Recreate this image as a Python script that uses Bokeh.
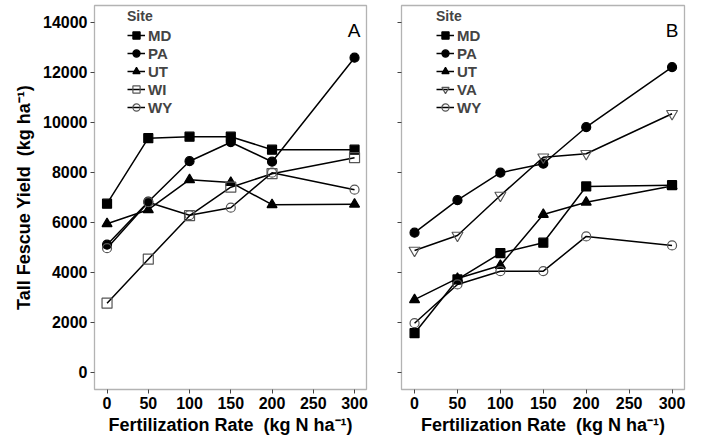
from bokeh.plotting import figure
from bokeh.models import Range1d, FixedTicker, Legend, LegendItem, Label
from bokeh.layouts import row
from bokeh.embed import file_html
from bokeh.resources import INLINE

# ---------------- data ----------------
rates = [0, 50, 100, 150, 200, 300]
x_ticks = [0, 50, 100, 150, 200, 250, 300]
y_ticks = [0, 2000, 4000, 6000, 8000, 10000, 12000, 14000]

sites_a = ["MD", "PA", "UT", "WI", "WY"]
a_md = [6740, 9360, 9420, 9420, 8900, 8900]
a_pa = [5100, 6820, 8440, 9200, 8420, 12580]
a_ut = [5940, 6500, 7700, 7590, 6700, 6720]
a_wi = [2760, 4520, 6260, 7400, 7940, 8580]
a_wy = [4960, 6800, 6280, 6580, 7980, 7300]

sites_b = ["MD", "PA", "UT", "VA", "WY"]
b_md = [1560, 3710, 4760, 5180, 7430, 7480]
b_pa = [5580, 6880, 7980, 8340, 9800, 12200]
b_ut = [2900, 3750, 4270, 6310, 6800, 7450]
b_va = [4870, 5470, 7070, 8600, 8740, 10340]
b_wy = [1960, 3510, 4040, 4040, 5430, 5070]

FONT = "Liberation Sans"
OPEN_COL = "#555555"

marker_style = {
    "MD": dict(marker="square", fill_color="black", line_color="black", size=9),
    "PA": dict(marker="circle", fill_color="black", line_color="black", size=9),
    "UT": dict(marker="triangle", fill_color="black", line_color="black", size=10),
    "WI": dict(marker="square", fill_color=None, line_color=OPEN_COL, size=10),
    "WY": dict(marker="circle", fill_color=None, line_color=OPEN_COL, size=9),
    "VA": dict(marker="inverted_triangle", fill_color=None, line_color=OPEN_COL, size=11),
}


def make_panel(width, left, right, sites, series, letter, letter_x, leg_x, show_labels):
    p = figure(width=width, height=441, output_backend="svg", toolbar_location=None,
               x_range=Range1d(-15.2, 314.5), y_range=Range1d(-692, 14668),
               min_border_left=left, min_border_right=right,
               min_border_top=5, min_border_bottom=52)
    p.xgrid.grid_line_color = None
    p.ygrid.grid_line_color = None
    p.outline_line_color = "#b3b3b3"
    p.outline_line_width = 1.3
    p.background_fill_color = "white"

    for ax in (p.xaxis[0], p.yaxis[0]):
        ax.axis_line_color = None
        ax.major_tick_line_color = "#444444"
        ax.major_tick_in = 0
        ax.major_tick_out = 4
        ax.minor_tick_line_color = None
        ax.major_label_text_font = FONT
        ax.major_label_text_font_style = "bold"
        ax.major_label_text_font_size = "16px"
        ax.major_label_text_color = "black"
        ax.axis_label_text_font = FONT
        ax.axis_label_text_font_style = "bold"
        ax.axis_label_text_font_size = "18px"
        ax.axis_label_text_color = "black"

    p.xaxis.ticker = FixedTicker(ticks=x_ticks)
    p.yaxis.ticker = FixedTicker(ticks=y_ticks)
    p.xaxis.major_label_standoff = 3
    p.xaxis.axis_label_standoff = 3
    p.xaxis.axis_label = "Fertilization Rate\u00a0 (kg N ha\u207b\u00b9)"
    p.yaxis.major_label_standoff = 3
    if show_labels:
        p.yaxis.axis_label = "Tall Fescue Yield\u00a0 (kg ha\u207b\u00b9)"
        p.yaxis.axis_label_standoff = 6
    else:
        p.yaxis.major_label_overrides = {t: "" for t in y_ticks}
        p.yaxis.major_label_standoff = 0

    items = []
    for name, vals in zip(sites, series):
        st = marker_style[name]
        lr = p.line(rates, vals, line_color="black", line_width=1.5)
        sr = p.scatter(rates, vals, marker=st["marker"], size=st["size"],
                       fill_color=st["fill_color"], line_color=st["line_color"],
                       line_width=1.2)
        items.append(LegendItem(label=name, renderers=[lr, sr]))

    leg = Legend(items=items, location=(leg_x, 273), title="Site",
                 title_text_font=FONT, title_text_font_style="bold",
                 title_text_font_size="14px", title_standoff=2,
                 label_text_font=FONT, label_text_font_style="bold",
                 label_text_font_size="15px", label_standoff=3,
                 glyph_width=18, glyph_height=18, label_height=18,
                 spacing=0, padding=0, margin=0,
                 border_line_color=None, background_fill_alpha=0)
    p.add_layout(leg)

    p.add_layout(Label(x=letter_x, y=359, x_units="screen", y_units="screen",
                       text=letter, text_font=FONT, text_font_size="19px",
                       text_align="right", text_baseline="alphabetic",
                       text_color="black"))
    return p


pA = make_panel(376, 94, 10, sites_a, [a_md, a_pa, a_ut, a_wi, a_wy], "A", 266, 33, True)
pB = make_panel(326, 25, 18, sites_b, [b_md, b_pa, b_ut, b_va, b_wy], "B", 277, 35, False)

layout = row(pA, pB, spacing=0)

open("out.html", "w").write(file_html(layout, INLINE))
